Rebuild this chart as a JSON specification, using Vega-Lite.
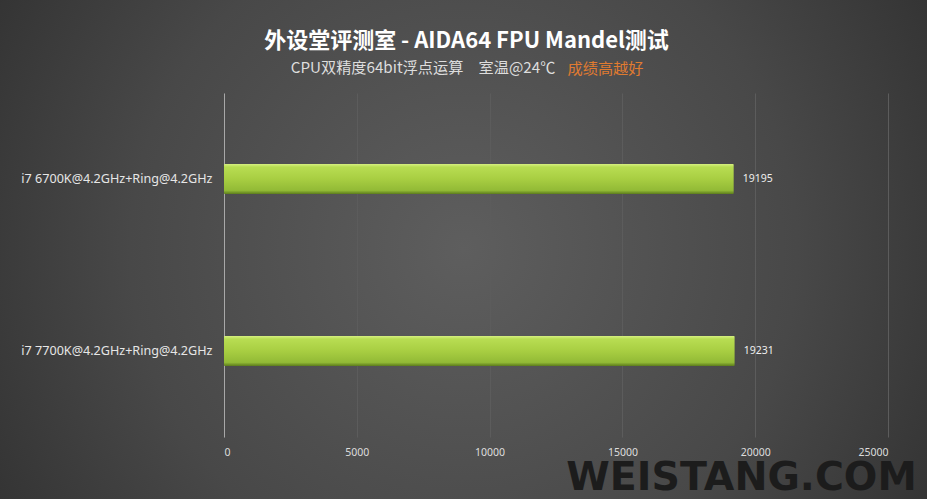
{
  "$schema": "https://vega.github.io/schema/vega-lite/v6.json",
  "width": 927,
  "height": 499,
  "autosize": {"type": "none"},
  "padding": 0,
  "background": "#262626",
  "view": {
    "stroke": null,
    "fill": {
      "gradient": "radial",
      "x1": 0.5, "y1": 0.5, "r1": 0,
      "x2": 0.5, "y2": 0.5, "r2": 0.72,
      "stops": [
        {"offset": 0, "color": "#5e5e5e"},
        {"offset": 0.5, "color": "#484848"},
        {"offset": 1, "color": "#262626"}
      ]
    }
  },
  "title": {
    "text": "外设堂评测室 - AIDA64 FPU Mandel测试",
    "subtitle": "CPU双精度64bit浮点运算\u3000室温@24℃\u3000\u3000\u3000\u3000\u3000\u2800",
    "anchor": "middle",
    "frame": "group",
    "offset": -77,
    "dx": 3,
    "font": "Noto Sans CJK SC",
    "fontSize": 22,
    "fontWeight": "bold",
    "color": "#ffffff",
    "subtitleFont": "Noto Sans CJK SC",
    "subtitleFontSize": 15.2,
    "subtitleColor": "#dddddd",
    "subtitlePadding": 8
  },
  "data": {
    "values": [
      {"cpu": "i7 6700K@4.2GHz+Ring@4.2GHz", "score": 19195},
      {"cpu": "i7 7700K@4.2GHz+Ring@4.2GHz", "score": 19231}
    ]
  },
  "encoding": {
    "y": {
      "field": "cpu",
      "type": "nominal",
      "sort": null,
      "scale": {"range": [93, 437], "paddingInner": 0, "paddingOuter": 0},
      "axis": {
        "orient": "left",
        "offset": -224,
        "title": "成绩高越好",
        "titleFont": "Noto Sans CJK SC",
        "titleFontSize": 15.2,
        "titleFontWeight": "normal",
        "titleColor": "#e07b30",
        "titleAngle": 0,
        "titleAlign": "left",
        "titleBaseline": "middle",
        "titleX": 343,
        "titleY": 68,
        "ticks": false,
        "grid": false,
        "domainColor": "#a8a8a8",
        "domainWidth": 1,
        "labelFont": "Noto Sans",
        "labelFontSize": 12.6,
        "labelLimit": 400,
        "labelColor": "#e6e6e6",
        "labelPadding": 12
      }
    },
    "x": {
      "field": "score",
      "type": "quantitative",
      "scale": {"domain": [0, 25000], "range": [224, 888], "nice": false},
      "axis": {
        "orient": "top",
        "offset": -437,
        "values": [0, 5000, 10000, 15000, 20000, 25000],
        "format": "d",
        "grid": true,
        "gridColor": "#5c5c5c",
        "gridWidth": 1,
        "ticks": false,
        "domain": false,
        "labelFont": "Noto Sans",
        "labelFontSize": 10.5,
        "labelColor": "#dddddd",
        "labelBaseline": "top",
        "labelPadding": -10,
        "title": "WEISTANG.COM",
        "titleFont": "DejaVu Sans",
        "titleFontSize": 39.5,
        "titleFontWeight": "bold",
        "titleColor": "#1c1c1c",
        "titleAlign": "center",
        "titleBaseline": "middle",
        "titleX": 741,
        "titleY": 40
      }
    }
  },
  "layer": [
    {
      "mark": {
        "type": "bar",
        "size": 30,
        "cornerRadius": 1,
        "fill": {
          "gradient": "linear",
          "x1": 0, "y1": 0, "x2": 0, "y2": 1,
          "stops": [
            {"offset": 0, "color": "#d6f080"},
            {"offset": 0.1, "color": "#b8dd52"},
            {"offset": 0.5, "color": "#a8ce42"},
            {"offset": 0.88, "color": "#92ba36"},
            {"offset": 1, "color": "#5c7c1c"}
          ]
        }
      }
    },
    {
      "mark": {
        "type": "text",
        "align": "left",
        "baseline": "middle",
        "dx": 9,
        "font": "Noto Sans",
        "fontSize": 10.5,
        "color": "#eeeeee"
      },
      "encoding": {
        "text": {"field": "score", "type": "quantitative", "format": "d"}
      }
    }
  ]
}
